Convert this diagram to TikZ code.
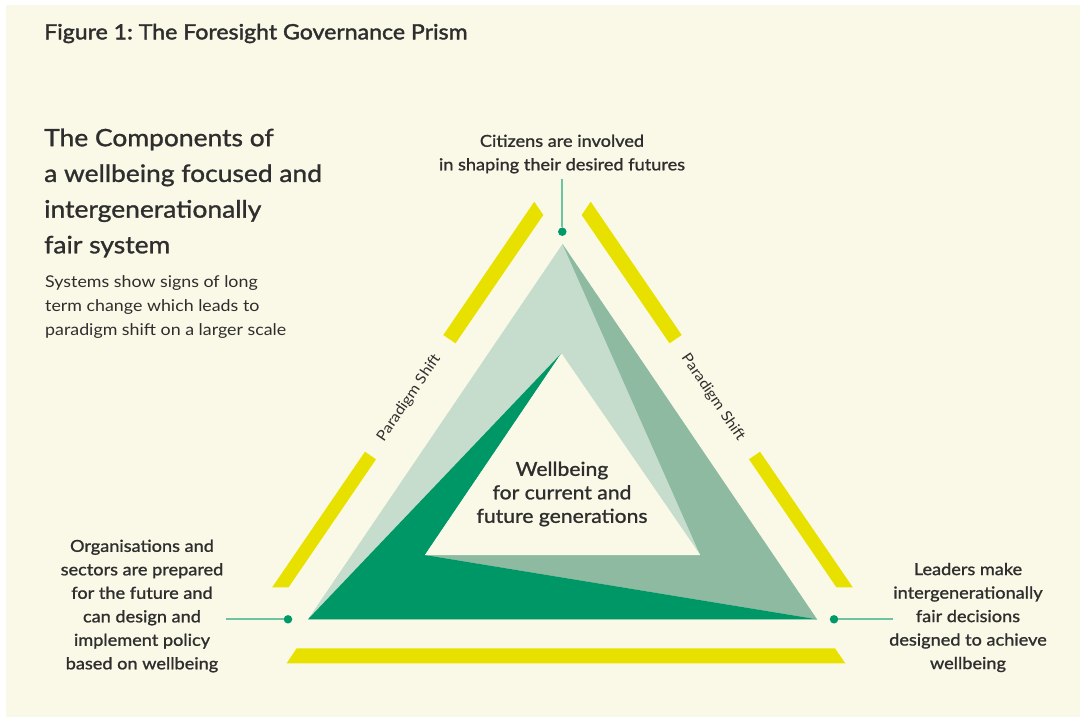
\documentclass[tikz,border=0pt]{standalone}
\usepackage{fontspec}
\setmainfont{Lato}
\newfontfamily\semifont[FakeBold=1.2,FakeStretch=1.1]{Lato}
\newfontfamily\titlefont[FakeBold=1.8,FakeStretch=1.1]{Lato}
\newfontfamily\plainfont[FakeStretch=1.1]{Lato}
\frenchspacing

\definecolor{panel}{HTML}{FAF9E7}
\definecolor{lightg}{HTML}{C6DDCE}
\definecolor{midg}{HTML}{8DBAA1}
\definecolor{darkg}{HTML}{009767}
\definecolor{barY}{HTML}{E8E100}
\definecolor{linkc}{HTML}{6CC4A0}
\definecolor{dotc}{HTML}{00996A}
\definecolor{inkc}{HTML}{2E2E2E}

\begin{document}
\begin{tikzpicture}[x=1pt,y=-1pt,
  labeltext/.style={font=\semifont\fontsize{16.5}{23.5}\selectfont, text=inkc, align=center, inner sep=0pt},
  bodytext/.style={font=\plainfont\fontsize{16.2}{24}\selectfont, text=inkc, align=left, inner sep=0pt},
  shifttext/.style={font=\plainfont\fontsize{14.5}{16}\selectfont, text=inkc, inner sep=0pt},
  ybar/.style={fill=barY},
  joint/.style={draw=linkc, line width=1.8pt},
  dotn/.style={circle, fill=dotc, minimum size=8.5pt, inner sep=0pt},
]
\useasboundingbox (0,0) rectangle (1080,717);
\fill[white] (0,0) rectangle (1080,717);
\fill[panel] (6,5) rectangle (1080,717);

% title and heading block
\node[anchor=west, font=\titlefont\fontsize{21}{24}\selectfont, text=inkc, inner sep=0pt] (title) at (44,33.5) {Figure 1: The Foresight Governance Prism};
\node[anchor=west, font=\semifont\fontsize{24}{35.7}\selectfont, text=inkc, align=left, inner sep=0pt] (heading) at (44,193)
  {The Components of\\a wellbeing focused and\\intergenerationally\\fair system};
\node[anchor=west, bodytext] (body) at (45,307)
  {Systems show signs of long\\term change which leads to\\paradigm shift on a larger scale};

% the twisted prism
\fill[lightg] (562.5,244) -- (308,619.3) -- (817,619.3) -- cycle;
\fill[midg] (562.5,244) -- (700.2,555) -- (424.9,555) -- (817,619.3) -- cycle;
\fill[darkg] (308,619.3) -- (561.4,353.3) -- (424.9,555) -- (817,619.3) -- cycle;
\fill[panel] (561.4,353.3) -- (424.9,555) -- (700.2,555) -- cycle;

% yellow frame segments
\fill[ybar] (534.3,201.7) -- (543.3,215) -- (455.5,343.3) -- (443.3,335) -- cycle;
\fill[ybar] (365,451.7) -- (376,459.3) -- (288.6,587.3) -- (272.2,587.3) -- cycle;
\fill[ybar] (590.7,201.7) -- (581.7,215) -- (669.5,343.3) -- (681.7,335) -- cycle;
\fill[ybar] (760,451.7) -- (749,459.3) -- (836.4,587.3) -- (852.8,587.3) -- cycle;
\fill[ybar] (296.7,648.3) -- (835,648.3) -- (845.3,663.3) -- (286.7,663.3) -- cycle;

\node[shifttext, rotate=55.7] (shiftL) at (409,398) {Paradigm Shift};
\node[shifttext, rotate=-55.7] (shiftR) at (713,397.5) {Paradigm Shift};

% centre text
\node[labeltext, font=\semifont\fontsize{19.2}{23.5}\selectfont] (core) at (562,494)
  {Wellbeing\\for current and\\future generations};

% callouts
\node[labeltext] (citizens) at (562,154) {Citizens are involved\\in shaping their desired futures};
\node[labeltext] (orgs) at (142,606)
  {Organisations and\\sectors are prepared\\for the future and\\can design and\\implement policy\\based on wellbeing};
\node[labeltext] (leaders) at (968,617.5)
  {Leaders make\\intergenerationally\\fair decisions\\designed to achieve\\wellbeing};

\coordinate (topend) at (562.3,179);
\coordinate (leftend) at (226,619.3);
\coordinate (rightend) at (893,619.3);
\node[dotn] (topdot) at (562.3,231.7) {};
\node[dotn] (leftdot) at (288,619.3) {};
\node[dotn] (rightdot) at (834,619.3) {};
\draw[joint] (topend) -- (topdot);
\draw[joint] (leftend) -- (leftdot);
\draw[joint] (rightdot) -- (rightend);
\end{tikzpicture}
\end{document}
